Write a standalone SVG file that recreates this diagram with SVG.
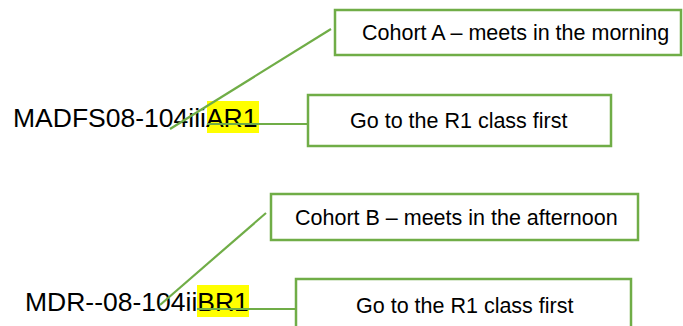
<svg xmlns="http://www.w3.org/2000/svg" width="683" height="326" viewBox="0 0 683 326">
<style>
.box{fill:#fff;stroke:#70AD47;stroke-width:2.5}
.lbl{font-family:"Liberation Sans",Arial,sans-serif;font-size:21.5px;fill:#000}
.code{font-family:"Liberation Sans",Arial,sans-serif;font-size:26.5px;fill:#000}
.hl{fill:#FFFF00}
.conn{stroke:#70AD47;stroke-width:2.2;fill:none}
</style>
<rect width="683" height="326" fill="#fff"/>
<g id="codeA">
<rect class="hl" x="207" y="101" width="52" height="32"/>
<text class="code" x="13" y="127">MADFS08-104iiiAR1</text>
</g>
<g id="codeB">
<rect class="hl" x="197" y="285" width="52" height="32"/>
<text class="code" x="25" y="311">MDR--08-104iiBR1</text>
</g>
<g id="cohortA">
<rect class="box" x="335" y="10" width="346" height="45"/>
<text class="lbl" x="362" y="40">Cohort A – meets in the morning</text>
</g>
<g id="firstA">
<rect class="box" x="308" y="95" width="303" height="51"/>
<text class="lbl" x="350" y="128">Go to the R1 class first</text>
</g>
<g id="cohortB">
<rect class="box" x="271" y="194" width="367" height="46"/>
<text class="lbl" x="295" y="225">Cohort B – meets in the afternoon</text>
</g>
<g id="firstB">
<rect class="box" x="296" y="279" width="335" height="60"/>
<text class="lbl" x="356" y="313">Go to the R1 class first</text>
</g>
<g id="connectors">
<line class="conn" x1="170" y1="129" x2="331" y2="29"/>
<line class="conn" x1="207" y1="124" x2="308" y2="124"/>
<line class="conn" x1="160" y1="305" x2="266" y2="213"/>
<line class="conn" x1="197" y1="309" x2="296" y2="309"/>
</g>
</svg>
